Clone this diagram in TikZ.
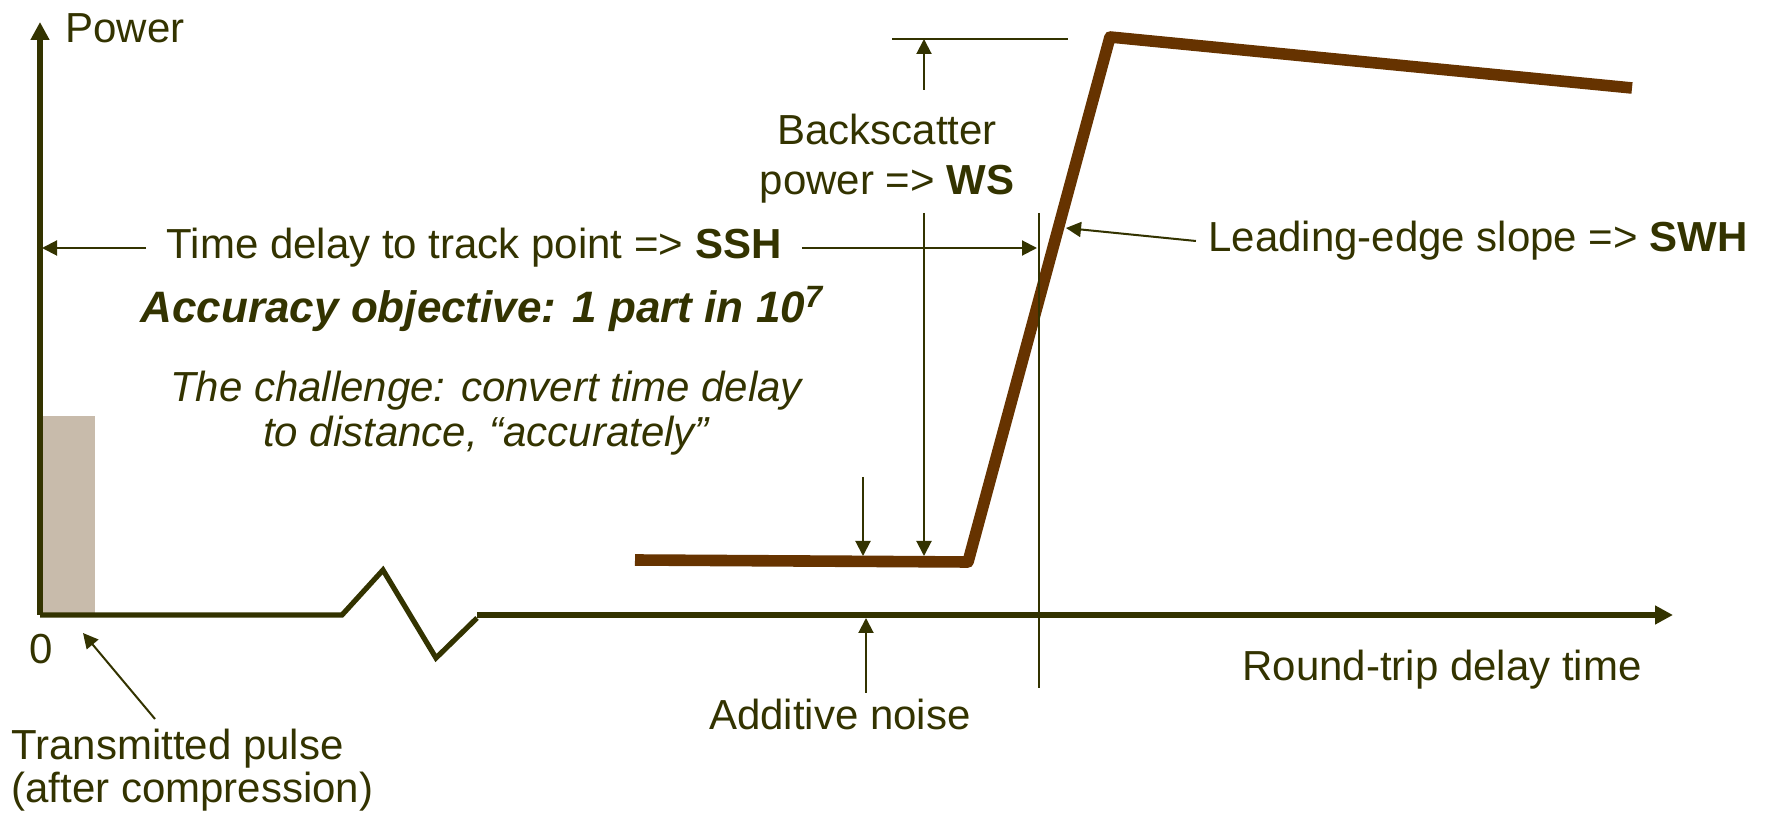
\documentclass[tikz,border=0pt]{standalone}
\usepackage{fontspec}
\setmainfont{Liberation Sans}
\usetikzlibrary{arrows.meta,positioning}
\definecolor{darkolive}{HTML}{333300}
\definecolor{echobrown}{HTML}{663300}
\definecolor{pulsegray}{HTML}{C8BBAB}

\begin{document}
\begin{tikzpicture}[x=0.5pt,y=-0.5pt,
          lbl/.style={
            text=darkolive,
            inner sep=0pt,
            font=\fontsize{21}{22.5}\selectfont
          },
          axis/.style={draw=darkolive,line width=2.6pt},
          axarr/.style={axis,-{Triangle[length=9pt,width=9pt]}},
          thin/.style={draw=darkolive,line width=1pt},
          arr/.style={thin,-{Triangle[length=7.5pt,width=7.5pt]}},
          wave/.style={draw=echobrown,line width=5.8pt,line join=round}
        ]
        \useasboundingbox (0,0) rectangle (1769,823);
        % transmitted pulse
        \fill[pulsegray] (42,416) rectangle (95,615);
        % axes with break
        \coordinate (o) at (40,615);
        \coordinate (ytip) at (40,22);
        \coordinate (brk) at (342,615);
        \coordinate (z1) at (383,570);
        \coordinate (z2) at (436,658);
        \coordinate (z3) at (477,618);
        \coordinate (xs) at (477,615);
        \coordinate (xtip) at (1673,615);
        \draw[axarr] (o) -- (ytip);
        \draw[axis] (o) -- (brk) -- (z1) -- (z2) -- (z3);
        \draw[axarr] (xs) -- (xtip);
        % return waveform
        \coordinate (w0) at (635,560);
        \coordinate (w1) at (968,562);
        \coordinate (w2) at (1110,37);
        \coordinate (w3) at (1632,88);
        \draw[wave] (w0) -- (w1) -- (w2) -- (w3);
        % labels
        \node[lbl,anchor=base west] (power) at (65,43) {Power};
        \node[lbl] (zero) at (41,649) {0};
        \node[lbl,align=left,anchor=west] (tx) at (11,770) {Transmitted pulse\\[-1pt](after compression)};
        \node[lbl,inner xsep=10pt] (delay) at (474,248) {Time delay to track point => \textbf{SSH}};
        \node[lbl,font=\fontsize{22}{24}\selectfont\bfseries\itshape] (acc) at (482,309) {Accuracy objective: 1 part in 10\textsuperscript{7}};
        \node[lbl,align=center,font=\fontsize{21}{22.5}\selectfont\itshape] (chal) at (486,413) {The challenge: convert time delay\\to distance, “accurately”};
        \node[lbl,align=center] (bs) at (887,159) {Backscatter\\[2.5pt]power => \textbf{WS}};
        \node[lbl,inner xsep=6pt] (les) at (1478,241) {Leading-edge slope => \textbf{SWH}};
        \node[lbl] (rtt) at (1442,670) {Round-trip delay time};
        \node[lbl] (noise) at (840,714) {Additive noise};
        % marker lines
        \coordinate (tt) at (1039,213);
        \coordinate (tb) at (1039,688);
        \coordinate (r0) at (892,39);
        \coordinate (r1) at (1068,39);
        \draw[thin] (tt) -- (tb);
        \draw[thin] (r0) -- (r1);
        % arrows
        \coordinate (tdl) at (42,248);
        \coordinate (tdr) at (1037,248);
        \draw[arr] (delay.west) -- (tdl);
        \draw[arr] (delay.east) -- (tdr);
        \coordinate (bsup) at (924,90);
        \coordinate (bstop) at (924,39);
        \coordinate (bsdn) at (924,213);
        \coordinate (bsbot) at (924,556);
        \draw[arr] (bsup) -- (bstop);
        \draw[arr] (bsdn) -- (bsbot);
        \coordinate (nf0) at (863,477);
        \coordinate (nf1) at (863,556);
        \draw[arr] (nf0) -- (nf1);
        \coordinate (na0) at (866,693);
        \coordinate (na1) at (866,618);
        \draw[arr] (na0) -- (na1);
        \coordinate (lestip) at (1066,228);
        \draw[arr] (les.west) -- (lestip);
        \coordinate (pa0) at (155,719);
        \coordinate (pa1) at (83,633);
        \draw[arr] (pa0) -- (pa1);
      \end{tikzpicture}
\end{document}
